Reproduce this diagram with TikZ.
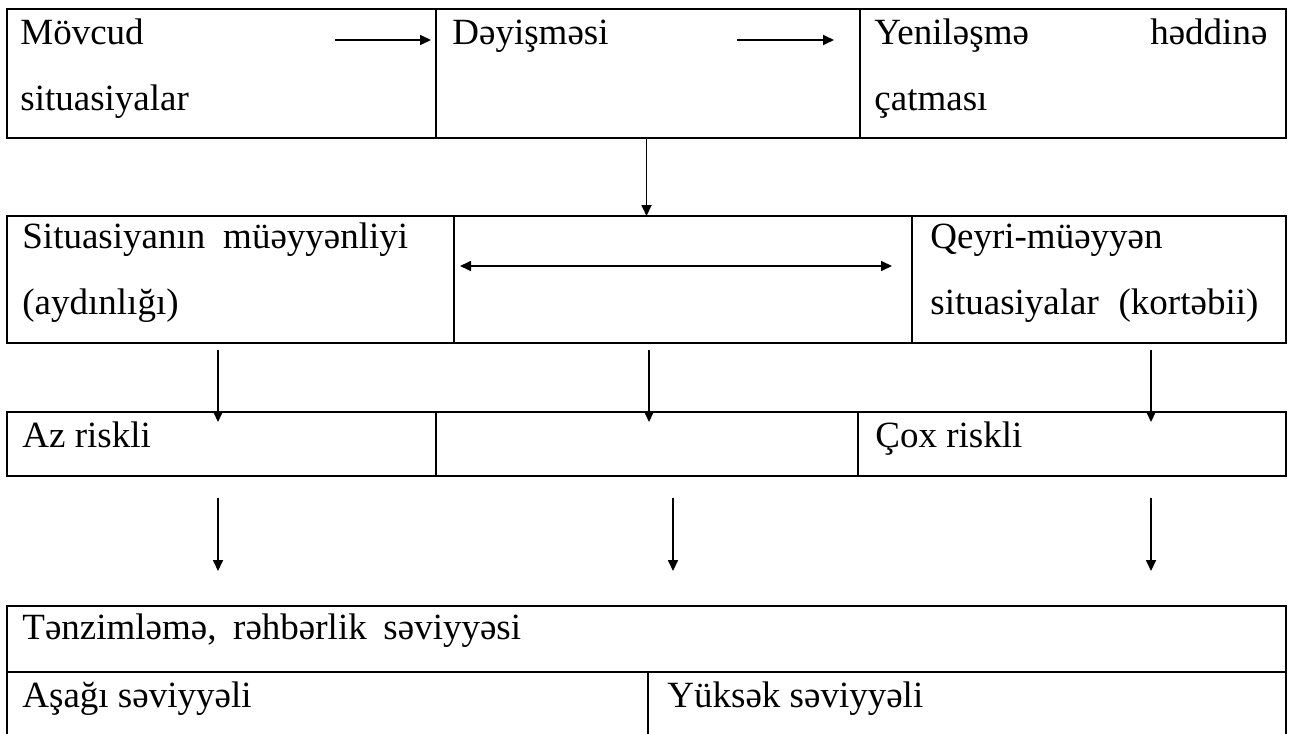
\documentclass[tikz,border=0pt]{standalone}
\usepackage{fontspec}
\setmainfont{Liberation Serif}
\usetikzlibrary{arrows.meta,positioning,calc,fit}

\begin{document}
\begin{tikzpicture}[x=0.5pt, y=-0.5pt,
    cell/.style={draw, line width=0.85pt, inner sep=0pt, outer sep=0pt},
    rowbox/.style={draw, line width=1.3pt, inner sep=0pt, outer sep=0pt},
    txt/.style={anchor=base west, inner sep=0pt, align=left,
                font=\fontsize{18.5pt}{33pt}\selectfont},
    arr/.style={-{Triangle[length=5.5pt, width=5pt]}, line width=0.85pt},
    darr/.style={{Triangle[length=5.5pt, width=5pt]}-{Triangle[length=5.5pt, width=5pt]}, line width=0.85pt}]

    \clip (0,0) rectangle (1294,733);

    % Row 1
    \node[cell, fit={(7,9) (436,138)}] (mov) {};
    \node[cell, fit={(436,9) (860,138)}] (dey) {};
    \node[cell, fit={(860,9) (1286,138)}] (yen) {};
    \node[rowbox, fit={(7,9) (1286,138)}] (row1) {};
    \node[txt, text width=150pt] (movt) at (20,45) {Mövcud\\situasiyalar};
    \node[txt] (deyt) at (452,45) {Dəyişməsi};
    \node[txt, text width=196.5pt] (yent) at (874,45) {Yeniləşmə\hfill həddinə\\çatması};

    \coordinate (m1) at (335,40);
    \coordinate (m2) at (431,40);
    \coordinate (d1) at (737,40);
    \coordinate (d2) at (834,40);
    \draw[arr] (m1) -- (m2);
    \draw[arr] (d1) -- (d2);

    % Row 2
    \node[cell, fit={(7,216) (454,343)}] (sit) {};
    \node[cell, fit={(454,216) (912,343)}] (mid) {};
    \node[cell, fit={(912,216) (1286,343)}] (qey) {};
    \node[rowbox, fit={(7,216) (1286,343)}] (row2) {};
    \node[txt, text width=210pt] (sitt) at (22,248) {Situasiyanın\hspace{0.15em} müəyyənliyi\\(aydınlığı)};
    \node[txt, text width=172pt] (qeyt) at (930,248) {Qeyri-müəyyən\\situasiyalar\hspace{0.2em} (kortəbii)};

    \draw[arr] (row1.south) -- (row2.north);

    \coordinate (b1) at (460,266);
    \coordinate (b2) at (892,266);
    \draw[darr] (b1) -- (b2);

    % Row 3
    \node[cell, fit={(7,412) (436,476)}] (az) {};
    \node[cell, fit={(436,412) (858,476)}] (orta) {};
    \node[cell, fit={(858,412) (1286,476)}] (cox) {};
    \node[rowbox, fit={(7,412) (1286,476)}] (row3) {};
    \node[txt] (azt) at (22,447) {Az riskli};
    \node[txt] (coxt) at (875,447) {Çox riskli};

    \foreach \x/\n in {218/a,649/b,1151/c} {
        \coordinate (p\n) at (\x,350);
        \coordinate (q\n) at (\x,422);
        \draw[arr] (p\n) -- (q\n);
    }

    % Row 4 and 5
    \node[rowbox, fit={(7,606) (1286,672)}] (ten) {};
    \node[cell, fit={(7,672) (648,760)}] (asa) {};
    \node[cell, fit={(648,672) (1286,760)}] (yuk) {};
    \node[rowbox, fit={(7,672) (1286,760)}] (row5) {};
    \node[txt] (tent) at (22,639) {Tənzimləmə,\hspace{0.2em} rəhbərlik\hspace{0.2em} səviyyəsi};
    \node[txt] (asat) at (22,707) {Aşağı səviyyəli};
    \node[txt] (yukt) at (667,707) {Yüksək səviyyəli};

    \foreach \x/\n in {218/a,673/b,1151/c} {
        \coordinate (u\n) at (\x,498);
        \coordinate (v\n) at (\x,571);
        \draw[arr] (u\n) -- (v\n);
    }
\end{tikzpicture}
\end{document}
